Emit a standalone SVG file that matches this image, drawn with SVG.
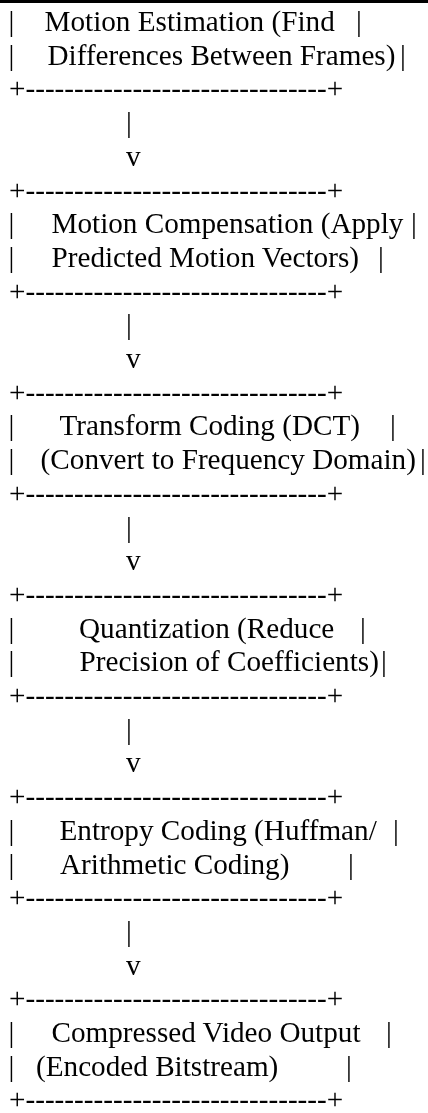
<svg xmlns="http://www.w3.org/2000/svg" width="428" height="1113" viewBox="0 0 428 1113">
<style>
text,.t{font-family:'Liberation Serif','Tinos','Times New Roman','DejaVu Serif',serif;font-size:29.2px;fill:#000}
.ascii{opacity:0.999}
</style>
<defs>
<text id="edge" class="t">+-------------------------------+</text>
</defs>
<rect x="0" y="0" width="428" height="1113" fill="#fff"/>
<rect x="0" y="0" width="428" height="3" fill="#000"/>
<g class="ascii">
<g id="node-motion-estimation">
<text class="t" x="8.5" y="31">|</text><text class="t" x="44.5" y="31">Motion Estimation (Find</text><text class="t" x="356" y="31">|</text>
<text class="t" x="8.5" y="64.7">|</text><text class="t" x="47.5" y="64.7">Differences Between Frames)</text><text class="t" x="400" y="64.7">|</text>
<use href="#edge" x="9" y="98.4"/>
</g>
<g id="node-motion-compensation">
<use href="#edge" x="9" y="199.5"/>
<text class="t" x="8.5" y="233.2">|</text><text class="t" x="51.5" y="233.2">Motion Compensation (Apply</text><text class="t" x="411" y="233.2">|</text>
<text class="t" x="8.5" y="266.9">|</text><text class="t" x="51.5" y="266.9">Predicted Motion Vectors)</text><text class="t" x="378" y="266.9">|</text>
<use href="#edge" x="9" y="300.6"/>
</g>
<g id="node-transform-coding">
<use href="#edge" x="9" y="401.7"/>
<text class="t" x="8.5" y="435.4">|</text><text class="t" x="59.5" y="435.4">Transform Coding (DCT)</text><text class="t" x="390" y="435.4">|</text>
<text class="t" x="8.5" y="469.1">|</text><text class="t" x="40.6" y="469.1">(Convert to Frequency Domain)</text><text class="t" x="420" y="469.1">|</text>
<use href="#edge" x="9" y="502.8"/>
</g>
<g id="node-quantization">
<use href="#edge" x="9" y="603.9"/>
<text class="t" x="8.5" y="637.6">|</text><text class="t" x="79" y="637.6">Quantization (Reduce</text><text class="t" x="360" y="637.6">|</text>
<text class="t" x="8.5" y="671.3">|</text><text class="t" x="79.5" y="671.3">Precision of Coefficients)</text><text class="t" x="381" y="671.3">|</text>
<use href="#edge" x="9" y="705"/>
</g>
<g id="node-entropy-coding">
<use href="#edge" x="9" y="806.1"/>
<text class="t" x="8.5" y="839.8">|</text><text class="t" x="59.5" y="839.8">Entropy Coding (Huffman/</text><text class="t" x="393" y="839.8">|</text>
<text class="t" x="8.5" y="873.5">|</text><text class="t" x="60" y="873.5">Arithmetic Coding)</text><text class="t" x="348" y="873.5">|</text>
<use href="#edge" x="9" y="907.2"/>
</g>
<g id="node-output">
<use href="#edge" x="9" y="1008.3"/>
<text class="t" x="8.5" y="1042">|</text><text class="t" x="51.5" y="1042">Compressed Video Output</text><text class="t" x="386" y="1042">|</text>
<text class="t" x="8.5" y="1075.7">|</text><text class="t" x="36" y="1075.7">(Encoded Bitstream)</text><text class="t" x="346" y="1075.7">|</text>
<use href="#edge" x="9" y="1109.4"/>
</g>
<g id="connectors">
<text class="t" x="126" y="132.1">|</text><text class="t" x="126" y="165.8">v</text>
<text class="t" x="126" y="334.3">|</text><text class="t" x="126" y="368">v</text>
<text class="t" x="126" y="536.5">|</text><text class="t" x="126" y="570.2">v</text>
<text class="t" x="126" y="738.7">|</text><text class="t" x="126" y="772.4">v</text>
<text class="t" x="126" y="940.9">|</text><text class="t" x="126" y="974.6">v</text>
</g>
</g>
</svg>
